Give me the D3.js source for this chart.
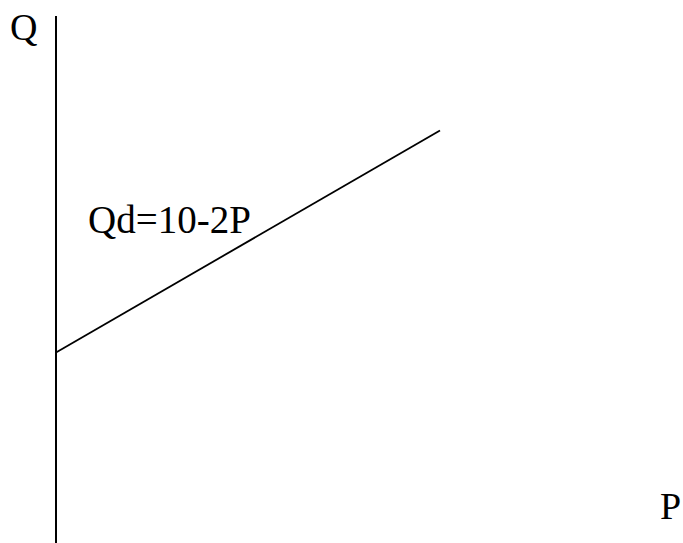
<!DOCTYPE html>
<html>
<head>
<meta charset="utf-8">
<script src="https://cdn.jsdelivr.net/npm/d3@7"></script>
<style>
  html, body { margin: 0; padding: 0; background: #fff; }
  svg { display: block; }
  text { font-family: "Liberation Serif", "Times New Roman", serif; fill: #000; }
</style>
</head>
<body>
<script>
// Demand line endpoints (price P, quantity Q)
const priceP = [0, 8];
const quantityQ = [4, 8];
const curveLabel = "Qd=10-2P";
const axisLabels = { y: "Q", x: "P" };

const width = 683, height = 543;

const svg = d3.select("body").append("svg")
  .attr("width", width)
  .attr("height", height);

const x = d3.scaleLinear().domain([0, 10]).range([56, 536]);
const y = d3.scaleLinear().domain([0, 10]).range([574.5, 19.5]);

// Vertical Q axis
svg.append("line")
  .attr("x1", x(0)).attr("x2", x(0))
  .attr("y1", 16).attr("y2", height)
  .attr("stroke", "#000")
  .attr("stroke-width", 2);

// Demand line
const pts = priceP.map((p, i) => [p, quantityQ[i]]);
svg.append("path")
  .datum(pts)
  .attr("d", d3.line().x(d => x(d[0])).y(d => y(d[1])))
  .attr("fill", "none")
  .attr("stroke", "#000")
  .attr("stroke-width", 1.8);

// Labels
svg.append("text")
  .attr("x", 10).attr("y", 40)
  .attr("font-size", 38)
  .text(axisLabels.y);

svg.append("text")
  .attr("x", 660).attr("y", 519)
  .attr("font-size", 38)
  .text(axisLabels.x);

svg.append("text")
  .attr("x", 88).attr("y", 233)
  .attr("font-size", 39)
  .text(curveLabel);
</script>
</body>
</html>
